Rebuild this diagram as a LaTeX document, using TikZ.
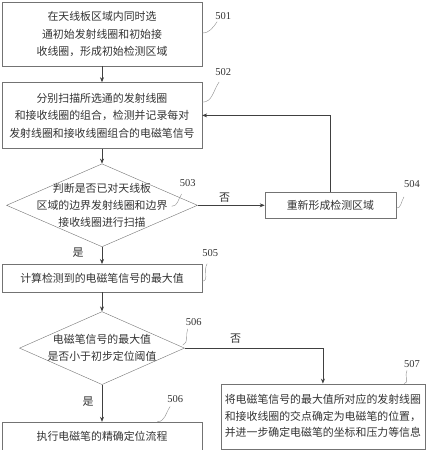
\documentclass[tikz,border=0pt]{standalone}
\usepackage{fontspec}
\setmainfont{Liberation Serif}
\newfontfamily\cjk{Noto Sans CJK SC}
\usetikzlibrary{arrows.meta,positioning,calc,shapes.geometric}

\begin{document}
\begin{tikzpicture}[x=1pt,y=1pt,
  b/.style={draw=black!55,align=center,font=\cjk\fontsize{10.9}{17.5}\selectfont,text=black!80,inner sep=0pt,minimum width=200pt},
  dec/.style={draw=black!55,diamond,inner sep=0pt},
  txt/.style={align=center,font=\cjk\fontsize{10.9}{17}\selectfont,text=black!80,inner sep=0pt},
  yn/.style={font=\cjk\fontsize{11}{11}\selectfont,text=black!80,inner sep=0pt},
  num/.style={font=\fontsize{10.5}{10.5}\selectfont,text=black!80,inner sep=0pt},
  lead/.style={draw=black!45,line width=0.4pt},
  >={Stealth[length=5pt,width=4pt]},arr/.style={->,draw=black!75,line width=0.6pt}]
\useasboundingbox (0,0) rectangle (426,-450);
\node[b,minimum height=64pt] (s501) at (102,-34) {在天线板区域内同时选\\通初始发射线圈和初始接\\收线圈，形成初始检测区域};
\node[b,minimum height=66pt,below=16pt of s501] (s502) {分别扫描所选通的发射线圈\\和接收线圈的组合，检测并记录每对\\发射线圈和接收线圈组合的电磁笔信号};
\node[dec,minimum width=191pt,minimum height=83pt,below=15pt of s502,
  label={[txt]center:判断是否已对天线板\\区域的边界发射线圈和边界\\接收线圈进行扫描}] (d503) {};
\node[b,minimum width=131pt,minimum height=26pt,right=67pt of d503] (s504) {重新形成检测区域};
\node[b,minimum height=28pt,below=17pt of d503] (s505) {计算检测到的电磁笔信号的最大值};
\node[dec,minimum width=165pt,minimum height=73pt,below=19pt of s505,
  label={[txt]center:电磁笔信号的最大值\\是否小于初步定位阈值}] (d506) {};
\node[b,minimum height=28pt,below=37pt of d506] (s506) {执行电磁笔的精确定位流程};
\node[b,minimum width=204pt,minimum height=65pt,font=\cjk\fontsize{10.9}{16.5}\selectfont,
  below right=35.5pt and 36pt of d506.east] (s507)
  {将电磁笔信号的最大值所对应的发射线圈\\和接收线圈的交点确定为电磁笔的位置，\\并进一步确定电磁笔的坐标和压力等信息};
% arrows
\draw[arr] (s501)--(s502);
\draw[arr] (s502)--(d503);
\draw[arr] (d503)--(s505);
\draw[arr] (s505)--(d506);
\draw[arr] (d506)--(s506);
\draw[arr] (d503.east)--(s504.west);
\draw[arr] (s504.north)|-(s502.east);
\draw[arr] (d506.east)-|(s507.north);
\node[yn] (no1) at ($(d503.east)+(27,8)$) {否};
\node[yn] (yes1) at ($(d503.south)+(-24,-6)$) {是};
\node[yn] (no2) at ($(d506.east)+(51,9)$) {否};
\node[yn] (yes2) at ($(d506.south)+(-14,-17)$) {是};
% step numbers
\node[num] (n501) at ($(s501.east)+(21,18)$) {501};
\node[num] (n502) at ($(s502.north east)+(21,10)$) {502};
\node[num] (n503) at ($(d503.east)+(-10,22)$) {503};
\node[num] (n504) at ($(s504.north east)+(16,8)$) {504};
\node[num] (n505) at ($(s505.north east)+(8,11)$) {505};
\node[num] (n506) at ($(d506.east)+(9,26)$) {506};
\node[num] (n506b) at ($(s506.north east)+(-27,23)$) {506};
\node[num] (n507) at ($(s507.north east)+(-13,20)$) {507};
\draw[lead] ($(s501.east)+(0,1)$) to[out=0,in=235] ($(n501.south west)+(2,-2)$);
\draw[lead] ($(s502.north east)+(0,-20)$) to[out=0,in=235] ($(n502.south west)+(4,-6)$);
\draw[lead] ($(d503.east)+(-26,-1)$) to[out=0,in=235] ($(n503.south west)+(2,-7)$);
\draw[lead] ($(s504.east)+(0,-3)$) to[out=0,in=235] ($(n504.south west)+(0,-9)$);
\draw[lead] ($(s505.east)+(0,-3)$) to[out=0,in=235] ($(n505.south west)+(5,-7)$);
\draw[lead] ($(d506.east)+(-2,3)$) to[out=20,in=250] ($(n506.south west)+(2,-3)$);
\draw[lead] ($(s506.north east)+(-45,0)$) to[out=0,in=235] ($(n506b.south west)+(3,-4)$);
\draw[lead] ($(s507.north east)+(-21,0)$) to[out=0,in=235] ($(n507.south west)+(3,-3)$);
\end{tikzpicture}
\end{document}
